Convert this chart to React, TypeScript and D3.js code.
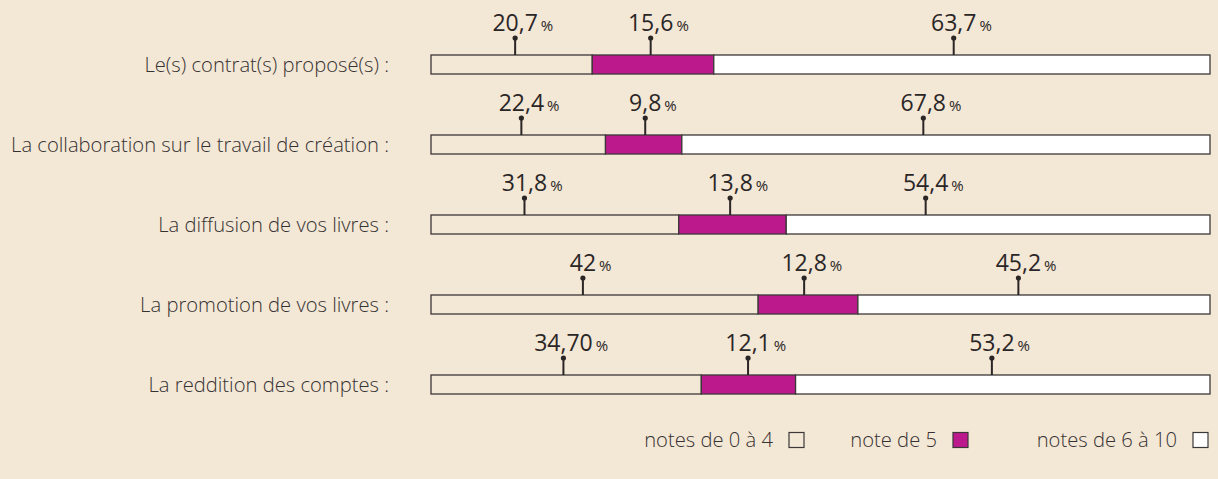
import React, { useEffect, useRef } from 'react';
import * as d3 from 'd3';

const categories = [
    'Le(s) contrat(s) proposé(s) :',
    'La collaboration sur le travail de création :',
    'La diffusion de vos livres :',
    'La promotion de vos livres :',
    'La reddition des comptes :',
];

// share of answers per band of marks, in %
const lowValues = [20.7, 22.4, 31.8, 42, 34.7];
const midValues = [15.6, 9.8, 13.8, 12.8, 12.1];
const highValues = [63.7, 67.8, 54.4, 45.2, 53.2];

// labels as printed
const lowLabels = ['20,7', '22,4', '31,8', '42', '34,70'];
const midLabels = ['15,6', '9,8', '13,8', '12,8', '12,1'];
const highLabels = ['63,7', '67,8', '54,4', '45,2', '53,2'];

// where each callout pin sits along the bar (in % of the bar)
const lowAnchor = [10.8, 11.6, 12.0, 19.5, 17.0];
const midAnchor = [28.2, 27.5, 38.4, 47.9, 40.7];
const highAnchor = [67.1, 63.2, 63.5, 75.4, 72.0];

const legendLabels = ['notes de 0 à 4', 'note de 5', 'notes de 6 à 10'];

const WIDTH = 1218;
const HEIGHT = 479;
const BG = '#f3e7d6';
const PINK = '#bc1a8c';
const INK = '#2b2626';
const FONT = '"Open Sans", sans-serif';

export default function App() {
    const svgRef = useRef<SVGSVGElement | null>(null);

    useEffect(() => {
        const svg = d3.select(svgRef.current);
        svg.selectAll('*').remove();

        const x = d3.scaleLinear().domain([0, 100]).range([431, 1210]);
        const y = d3.scaleBand<string>()
            .domain(categories)
            .range([55, 394])
            .paddingInner(0.7625)
            .paddingOuter(0);
        const colors = [BG, PINK, '#ffffff'];

        svg.append('rect')
            .attr('width', WIDTH)
            .attr('height', HEIGHT)
            .attr('fill', BG);

        const rows = categories.map((cat, i) => ({
            cat,
            segs: [lowValues[i], midValues[i], highValues[i]],
            labels: [lowLabels[i], midLabels[i], highLabels[i]],
            anchors: [lowAnchor[i], midAnchor[i], highAnchor[i]],
        }));

        rows.forEach(row => {
            const top = y(row.cat) ?? 0;
            const h = y.bandwidth();
            const g = svg.append('g');

            // category label
            g.append('text')
                .attr('x', x(0) - 42)
                .attr('y', top + h / 2)
                .attr('dy', '0.36em')
                .attr('text-anchor', 'end')
                .attr('font-family', FONT)
                .attr('font-weight', 300)
                .attr('font-size', 20.2)
                .attr('fill', '#363232')
                .text(row.cat);

            // stacked segments
            let acc = 0;
            row.segs.forEach((v, k) => {
                g.append('rect')
                    .attr('x', x(acc))
                    .attr('y', top)
                    .attr('width', x(acc + v) - x(acc))
                    .attr('height', h)
                    .attr('fill', colors[k])
                    .attr('stroke', '#3c3838')
                    .attr('stroke-width', 1.3);
                acc += v;
            });

            // callouts
            row.anchors.forEach((a, k) => {
                const cx = x(a);
                g.append('line')
                    .attr('x1', cx).attr('x2', cx)
                    .attr('y1', top).attr('y2', top - 17)
                    .attr('stroke', INK)
                    .attr('stroke-width', 2);
                g.append('circle')
                    .attr('cx', cx).attr('cy', top - 17)
                    .attr('r', 2.6)
                    .attr('fill', INK);
                const num = g.append('text')
                    .attr('x', cx)
                    .attr('y', top - 24.5)
                    .attr('text-anchor', 'middle')
                    .attr('font-family', FONT)
                    .attr('font-size', 23)
                    .attr('fill', INK)
                    .text(row.labels[k]);
                const w = (num.node() as SVGTextElement).getComputedTextLength();
                g.append('text')
                    .attr('x', cx + w / 2 + 3)
                    .attr('y', top - 24.5)
                    .attr('font-family', FONT)
                    .attr('font-size', 15)
                    .attr('fill', INK)
                    .text('%');
            });
        });

        // legend
        const boxRight = [804, 968, 1208];
        legendLabels.forEach((lab, k) => {
            const bx = boxRight[k] - 15;
            svg.append('rect')
                .attr('x', bx)
                .attr('y', 432.5)
                .attr('width', 15)
                .attr('height', 15)
                .attr('fill', colors[k])
                .attr('stroke', '#3c3838')
                .attr('stroke-width', 1.2);
            svg.append('text')
                .attr('x', bx - 16)
                .attr('y', 447)
                .attr('text-anchor', 'end')
                .attr('font-family', FONT)
                .attr('font-weight', 300)
                .attr('font-size', 20.2)
                .attr('fill', '#363232')
                .text(lab);
        });
    }, []);

    return (
        <svg
            ref={svgRef}
            width={WIDTH}
            height={HEIGHT}
            style={{ position: 'absolute', left: 0, top: 0, display: 'block' }}
        />
    );
}
